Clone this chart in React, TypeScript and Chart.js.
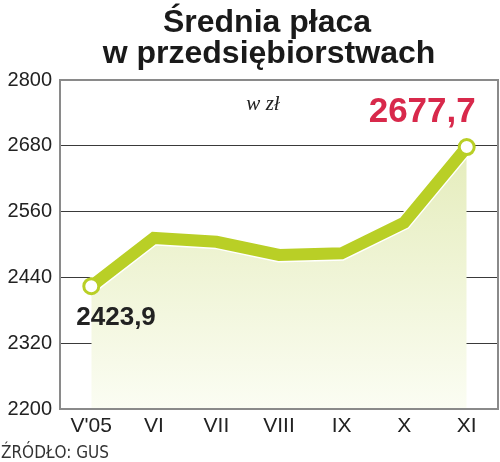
import React, { useEffect, useRef } from "react";
import { Chart, registerables } from "chart.js";

Chart.register(...registerables);

const titleLines = ["Średnia płaca", "w przedsiębiorstwach"];
const unitLabel = "w zł";
const sourceLabel = "ŹRÓDŁO: GUS";
const categories = ["V'05", "VI", "VII", "VIII", "IX", "X", "XI"];
const salaries = [2423.9, 2512, 2505, 2481, 2484, 2540, 2677.7];
const firstLabel = "2423,9";
const lastLabel = "2677,7";
const yMin = 2200;
const yMax = 2800;
const yStep = 120;

const GREEN = "#b9cf26";

const annotations = {
  id: "annotations",
  afterDraw(chart: any) {
    const { ctx, chartArea } = chart;
    ctx.save();
    // frame
    ctx.strokeStyle = "#8a8a8a";
    ctx.lineWidth = 2;
    ctx.strokeRect(chartArea.left, chartArea.top, chartArea.right - chartArea.left, chartArea.bottom - chartArea.top);

    // title
    ctx.fillStyle = "#1a1a1a";
    ctx.textAlign = "center";
    ctx.textBaseline = "alphabetic";
    ctx.font = "bold 32px 'Liberation Sans', Arial, sans-serif";
    ctx.fillText(titleLines[0], 267, 32);
    ctx.fillText(titleLines[1], 269, 63);

    // unit
    ctx.font = "italic 21px 'Liberation Serif', 'DejaVu Serif', serif";
    ctx.fillStyle = "#222";
    ctx.fillText(unitLabel, 263, 110);

    const meta = chart.getDatasetMeta(2);
    const p0 = meta.data[0];
    const pN = meta.data[meta.data.length - 1];

    // value labels
    ctx.textAlign = "left";
    ctx.font = "bold 26px 'Liberation Sans', Arial, sans-serif";
    ctx.fillStyle = "#222";
    ctx.fillText(firstLabel, p0.x - 15, p0.y + 39);

    ctx.textAlign = "right";
    ctx.font = "bold 35px 'Liberation Sans', Arial, sans-serif";
    ctx.fillStyle = "#d8294b";
    ctx.fillText(lastLabel, pN.x + 9, pN.y - 25);

    // source
    ctx.textAlign = "left";
    ctx.fillStyle = "#333";
    ctx.font = "17px 'Liberation Sans Narrow', 'DejaVu Sans Condensed', sans-serif";
    ctx.fillText(sourceLabel, 1, 458);
    ctx.restore();
  },
};

export default function App() {
  const ref = useRef<HTMLCanvasElement>(null);
  useEffect(() => {
    document.body.style.margin = "0";
    const canvas = ref.current!;
    const lastIdx = salaries.length - 1;
    const fillGradient = (context: any) => {
      const { chart } = context;
      const area = chart.chartArea;
      if (!area) return "#e8efc4";
      const g = chart.ctx.createLinearGradient(0, area.top, 0, area.bottom);
      g.addColorStop(0, "#dfe8ad");
      g.addColorStop(1, "#fbfdf3");
      return g;
    };
    const chart = new Chart(canvas, {
      type: "line",
      data: {
        labels: categories,
        datasets: [
          {
            data: salaries,
            borderWidth: 0,
            pointRadius: 0,
            fill: "start",
            backgroundColor: fillGradient,
            order: 3,
          },
          {
            data: salaries,
            borderColor: "#ffffff",
            borderWidth: 15,
            pointRadius: 0,
            fill: false,
            borderJoinStyle: "miter",
            order: 2,
          },
          {
            data: salaries,
            borderColor: GREEN,
            borderWidth: 12,
            fill: false,
            borderJoinStyle: "miter",
            pointRadius: (c: any) => (c.dataIndex === 0 || c.dataIndex === lastIdx ? 7.5 : 0),
            pointBackgroundColor: "#ffffff",
            pointBorderColor: GREEN,
            pointBorderWidth: 3,
            order: 1,
          },
        ],
      } as any,
      options: {
        responsive: false,
        animation: false,
        layout: { autoPadding: false, padding: { top: 80, right: 2, left: 0, bottom: 0 } },
        plugins: {
          legend: { display: false },
          title: { display: false },
          tooltip: { enabled: false },
        },
        scales: {
          x: {
            offset: true,
            grid: { display: false, drawTicks: false },
            border: { display: false },
            ticks: {
              padding: 5,
              color: "#222",
              font: { family: "'Liberation Sans', Arial, sans-serif", size: 21 },
            },
            afterFit: (s: any) => {
              s.height = 53;
              s.paddingLeft = 0;
              s.paddingRight = 0;
            },
          },
          y: {
            min: yMin,
            max: yMax,
            grid: {
              drawTicks: false,
              color: (c: any) => (c.tick && (c.tick.value === yMin || c.tick.value === yMax) ? "rgba(0,0,0,0)" : "#3a3a3a"),
              lineWidth: 1,
            },
            border: { display: false },
            ticks: {
              stepSize: yStep,
              padding: 8,
              color: "#222",
              callback: (v: any) => String(v),
              font: { family: "'Liberation Sans', Arial, sans-serif", size: 20 },
            },
            afterFit: (s: any) => {
              s.width = 60;
              s.paddingTop = 0;
              s.paddingBottom = 0;
            },
          },
        },
      } as any,
      plugins: [annotations],
    });
    return () => chart.destroy();
  }, []);
  return (
    <div style={{ width: 500, height: 462 }}>
      <canvas ref={ref} width={500} height={462} />
    </div>
  );
}
